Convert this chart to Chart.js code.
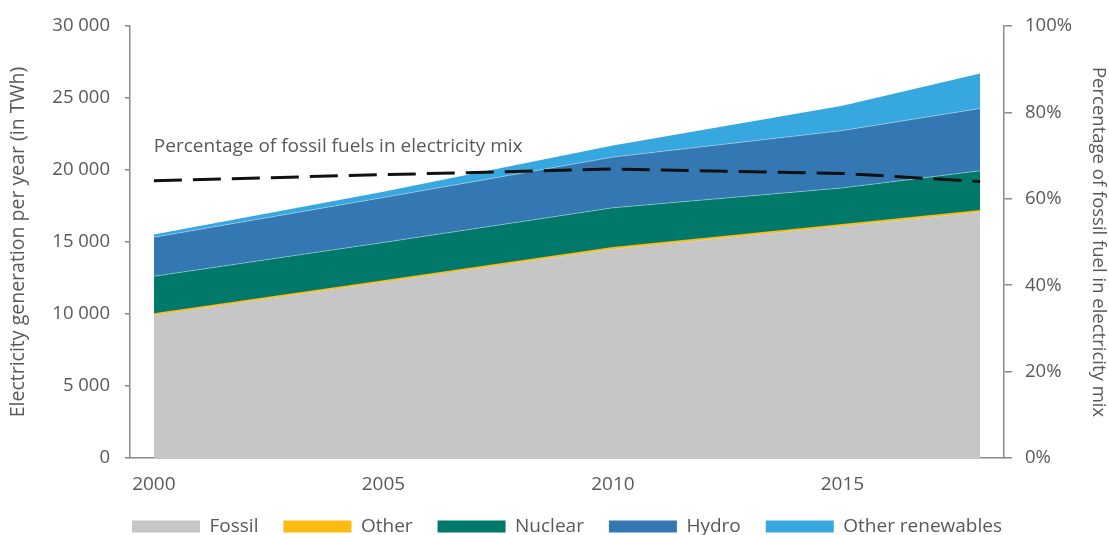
<!DOCTYPE html>
<html>
<head>
<meta charset="utf-8">
<script src="https://cdn.jsdelivr.net/npm/chart.js@4.4.1/dist/chart.umd.min.js"></script>
<style>
  html, body { margin: 0; padding: 0; background: #fff; }
  #wrap { width: 1109px; height: 535px; }
</style>
</head>
<body>
<div id="wrap"><canvas id="mixChart" width="1109" height="535"></canvas></div>
<script>
// electricity generation by source, TWh
const years = [2000, 2005, 2010, 2015, 2018];
const fossil = [9930, 12220, 14520, 16110, 17080];
const other = [70, 80, 80, 90, 90];
const nuclear = [2620, 2670, 2780, 2560, 2780];
const hydro = [2710, 3120, 3520, 3980, 4330];
const otherRenewables = [190, 410, 800, 1720, 2430];
// share of fossil fuels in the mix, %
const fossilShare = [64.2, 65.6, 66.9, 65.9, 64.0];

const xTicks = [2000, 2005, 2010, 2015];
const leftTicks = [0, 5000, 10000, 15000, 20000, 25000, 30000];
const rightTicks = [0, 20, 40, 60, 80, 100];

const noteText = "Percentage of fossil fuels in electricity mix";
const noteAt = { year: 2000, share: 72 };

const textColor = "#58595b";
const axisColor = "#8a8a8a";
const FONT = "'Open Sans', sans-serif";

Chart.defaults.font.family = FONT;
Chart.defaults.font.size = 18.5;
Chart.defaults.color = textColor;

function toPoints(arr) {
  return arr.map((v, i) => ({ x: years[i], y: v }));
}

const fmtThousands = v => String(v).replace(/\B(?=(\d{3})+(?!\d))/g, " ");

const noteLabel = {
  id: "noteLabel",
  afterLayout(chart) {
    // centre the legend under the plot area rather than the canvas
    const shift = (chart.chartArea.left + chart.chartArea.right) / 2 - chart.width / 2;
    chart.legend.left += shift;
    chart.legend.right += shift;
  },
  afterDatasetsDraw(chart) {
    const { ctx, scales } = chart;
    ctx.save();
    ctx.font = "19px " + FONT;
    ctx.fillStyle = textColor;
    ctx.textAlign = "left";
    ctx.textBaseline = "middle";
    ctx.fillText(noteText, scales.x.getPixelForValue(noteAt.year), scales.y1.getPixelForValue(noteAt.share));
    ctx.restore();
  }
};

const soft = "rgba(255,255,255,0.35)";

new Chart(document.getElementById("mixChart").getContext("2d"), {
  type: "line",
  data: {
    datasets: [
      { label: "Fossil", data: toPoints(fossil), backgroundColor: "#c6c6c6", borderWidth: 0, fill: "origin", yAxisID: "y" },
      { label: "Other", data: toPoints(other), backgroundColor: "#fbbb10", borderColor: "#fbbb10", borderWidth: 1.5, fill: "-1", yAxisID: "y" },
      { label: "Nuclear", data: toPoints(nuclear), backgroundColor: "#00796b", borderColor: soft, borderWidth: 1, fill: "-1", yAxisID: "y" },
      { label: "Hydro", data: toPoints(hydro), backgroundColor: "#3478b3", borderColor: soft, borderWidth: 1, fill: "-1", yAxisID: "y" },
      { label: "Other renewables", data: toPoints(otherRenewables), backgroundColor: "#37a8df", borderWidth: 0, fill: "-1", yAxisID: "y" },
      { label: "share", data: toPoints(fossilShare), borderColor: "#111", borderWidth: 3, borderDash: [28, 11],
        fill: false, yAxisID: "y1", order: -1 }
    ]
  },
  options: {
    responsive: false,
    animation: false,
    layout: { padding: { top: 23, left: 0, right: 0, bottom: 0 } },
    elements: { point: { radius: 0 }, line: { tension: 0 } },
    plugins: {
      tooltip: { enabled: false },
      legend: {
        position: "bottom",
        maxHeight: 43,
        labels: {
          boxWidth: 68,
          boxHeight: 12,
          padding: 25,
          color: textColor,
          font: { size: 19 },
          generateLabels(chart) {
            return Chart.defaults.plugins.legend.labels.generateLabels(chart)
              .filter(l => l.datasetIndex < 5)
              .map(l => ({ ...l, strokeStyle: l.fillStyle, lineWidth: 0 }));
          }
        }
      }
    },
    scales: {
      x: {
        type: "linear",
        min: 1999.48,
        max: 2018.52,
        afterBuildTicks(scale) { scale.ticks = xTicks.map(v => ({ value: v })); },
        afterFit(scale) { scale.height = 34; },
        grid: { display: false, drawTicks: false },
        border: { color: axisColor, width: 1.5 },
        ticks: { padding: 15, maxRotation: 0, font: { size: 19 }, callback: v => String(v) }
      },
      y: {
        position: "left",
        stacked: true,
        min: 0,
        max: 30000,
        afterBuildTicks(scale) { scale.ticks = leftTicks.map(v => ({ value: v })); },
        afterFit(scale) { scale.width = 130; },
        grid: { drawOnChartArea: false, tickLength: 5, color: axisColor, lineWidth: 1.5 },
        border: { color: axisColor, width: 1.5 },
        ticks: { padding: 15, callback: v => fmtThousands(v) },
        title: { display: true, text: "Electricity generation per year (in TWh)", font: { size: 19.5 }, padding: { top: 7, bottom: 0 } }
      },
      y1: {
        position: "right",
        min: 0,
        max: 100,
        afterBuildTicks(scale) { scale.ticks = rightTicks.map(v => ({ value: v })); },
        afterFit(scale) { scale.width = 105; },
        grid: { drawOnChartArea: false, tickLength: 8, color: axisColor, lineWidth: 1.5 },
        border: { color: axisColor, width: 1.5 },
        ticks: { padding: 13, callback: v => v + "%" },
        title: { display: true, text: "Percentage of fossil fuel in electricity mix", padding: { top: 0, bottom: 0 } }
      }
    }
  },
  plugins: [noteLabel]
});
</script>
</body>
</html>
